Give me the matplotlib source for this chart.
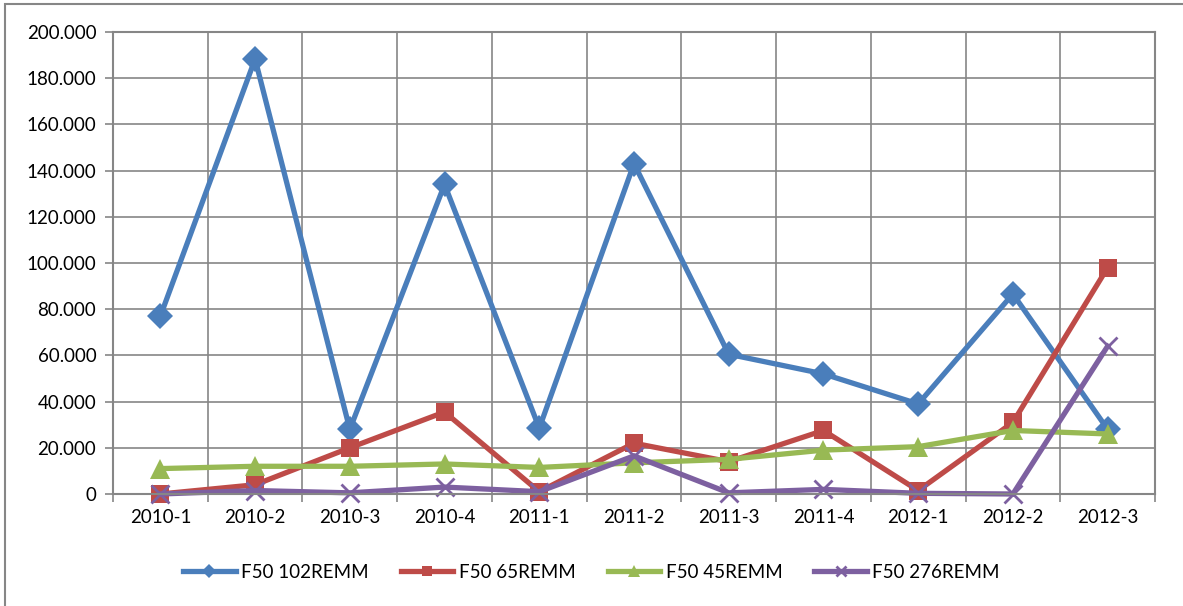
import matplotlib.pyplot as plt
from matplotlib.patches import Rectangle
from matplotlib.ticker import FuncFormatter

# quarters on the x axis
quarters = ['2010-1', '2010-2', '2010-3', '2010-4', '2011-1', '2011-2',
            '2011-3', '2011-4', '2012-1', '2012-2', '2012-3']

f50_102 = [77, 188.3, 28, 134, 28.5, 143, 60.5, 52, 39, 86.6, 28]
f50_65 = [0, 4, 20, 35.5, 1, 22, 14, 27.5, 1.5, 31, 98]
f50_45 = [11, 12, 12, 13, 11.5, 13.5, 15, 19, 20.5, 27.5, 26]
f50_276 = [0, 1.5, 0.5, 3, 1, 16.5, 0.5, 2, 0.3, 0, 64]

series = [
    ('F50 102REMM', f50_102, '#4A7EBB', 'D', 13),
    ('F50 65REMM', f50_65, '#BE4B48', 's', 12.5),
    ('F50 45REMM', f50_45, '#98B954', '^', 15),
    ('F50 276REMM', f50_276, '#7D60A0', 'x', 13),
]

plt.rcParams['font.family'] = ['Lato', 'DejaVu Sans']

fig = plt.figure(figsize=(11.83, 6.06), dpi=100)
ax = fig.add_axes([113 / 1183, 1 - 494 / 606, (1155 - 113) / 1183, (494 - 32) / 606])

x = list(range(len(quarters)))
for name, vals, col, mk, ms in series:
    kw = dict(markeredgewidth=2) if mk == 'x' else dict(markeredgewidth=0)
    ax.plot(x, vals, color=col, lw=3.8, marker=mk, markersize=ms,
            label=name, solid_joinstyle='miter', clip_on=False, **kw)

ax.set_xlim(-0.5, len(quarters) - 0.5)
ax.set_ylim(0, 200)
ax.set_yticks(range(0, 201, 20))
ax.yaxis.set_major_formatter(FuncFormatter(lambda v, p: '0' if v == 0 else f'{int(v)}.000'))
ax.set_xticks(x)
ax.set_xticklabels(quarters)
ax.set_xticks([i - 0.5 for i in range(len(quarters) + 1)], minor=True)

ax.tick_params(axis='x', which='major', length=0, pad=11, labelsize=13.5)
ax.tick_params(axis='x', which='minor', length=6, width=1.2, color='#868686')
ax.tick_params(axis='y', length=6, width=1.2, color='#868686', pad=6, labelsize=13.5)

ax.grid(axis='y', which='major', color='#868686', lw=1.2)
ax.grid(axis='x', which='minor', color='#868686', lw=1.2)
ax.set_axisbelow(True)
for s in ax.spines.values():
    s.set_color('#868686')
    s.set_linewidth(1.5)

fig.legend(loc='center', bbox_to_anchor=(0.5, 1 - 572 / 606), ncol=4, frameon=False,
           fontsize=13.5, handlelength=2.8, columnspacing=1.7, handletextpad=0.3,
           markerscale=0.55)

# outer chart border
fig.patches.append(Rectangle((5 / 1183, -0.1), 1.2, 1 - 4 / 606 + 0.1,
                             transform=fig.transFigure, fill=False,
                             edgecolor='#868686', lw=1.5))

fig.savefig('out.png', dpi=100)
